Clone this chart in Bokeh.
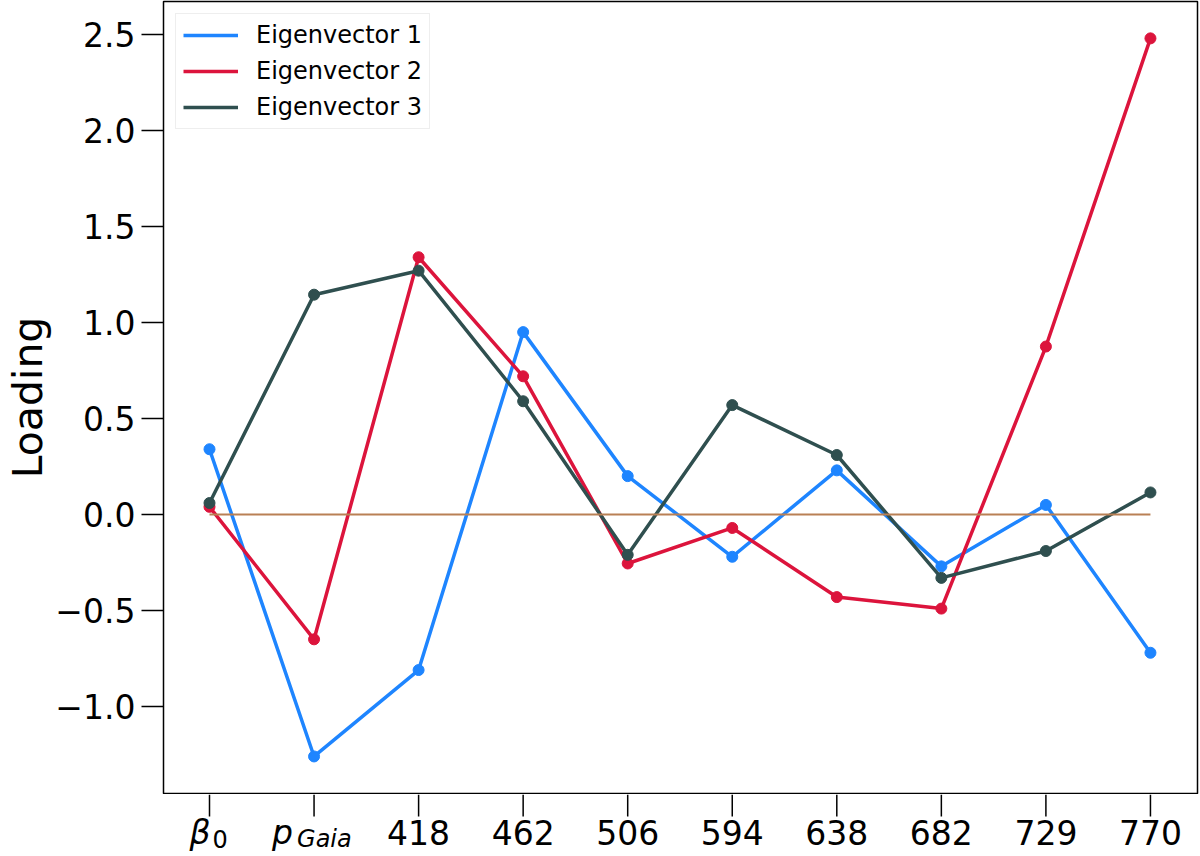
from bokeh.plotting import figure
from bokeh.models import Range1d, FixedTicker, Legend, LegendItem
from bokeh.layouts import column
from bokeh.core.properties import value
from bokeh.embed import file_html
from bokeh.resources import INLINE

# data
tick_names = ["418", "462", "506", "594", "638", "682", "729", "770"]
xs = list(range(10))   # beta0, pGaia, then the wavelengths above

ev1 = [0.34, -1.26, -0.81, 0.95, 0.20, -0.22, 0.23, -0.27, 0.05, -0.72]
ev2 = [0.04, -0.65, 1.34, 0.72, -0.255, -0.07, -0.43, -0.49, 0.875, 2.48]
ev3 = [0.06, 1.145, 1.27, 0.59, -0.21, 0.57, 0.31, -0.33, -0.19, 0.115]
zero = [0.0] * len(xs)

y_ticks = [-1.0, -0.5, 0.0, 0.5, 1.0, 1.5, 2.0, 2.5]
y_tick_labels = ["\u22121.0", "\u22120.5", "0.0", "0.5", "1.0", "1.5", "2.0", "2.5"]

series = [("Eigenvector 1", ev1, "#1E85FF"),
          ("Eigenvector 2", ev2, "#DC143C"),
          ("Eigenvector 3", ev3, "#2F4F4F")]

FONT = "DejaVu Sans"
LEFT = 163
X_RANGE = Range1d(-0.44, 9.45)

# main plot, no x axis (ticks + labels live in the strip below)
p = figure(width=1200, height=794, output_backend="svg", toolbar_location=None,
           x_range=X_RANGE, y_range=Range1d(-1.453, 2.672),
           x_axis_location=None,
           min_border_left=LEFT, min_border_right=3, min_border_top=1,
           min_border_bottom=1)

p.xgrid.visible = False
p.ygrid.visible = False
p.outline_line_color = "black"
p.outline_line_width = 1.5

items = []
for name, vals, col in series:
    r = p.line(xs, vals, color=col, line_width=3.5)
    p.scatter(xs, vals, color=col, size=11)
    items.append(LegendItem(label=name, renderers=[r]))

p.line(xs, zero, color="#B98055", line_width=2)

legend = Legend(items=items, location="top_left", margin=12,
                label_text_font=FONT, label_text_font_size="24px",
                label_text_color="black",
                glyph_width=55, glyph_height=26, label_height=26,
                spacing=8, padding=7, label_standoff=18,
                border_line_color="#dddddd", border_line_width=1.5)
p.add_layout(legend)

# y axis
p.yaxis.ticker = FixedTicker(ticks=y_ticks)
p.yaxis.major_label_overrides = dict(zip(y_ticks, y_tick_labels))
p.yaxis.axis_label = "Loading"
p.yaxis.axis_label_text_font = FONT
p.yaxis.axis_label_text_font_size = "41px"
p.yaxis.axis_label_text_font_style = "normal"
p.yaxis.axis_label_text_color = "black"
p.yaxis.axis_label_standoff = 0
p.yaxis.major_label_text_font = FONT
p.yaxis.major_label_text_font_size = "33px"
p.yaxis.major_label_text_color = "black"
p.yaxis.major_label_standoff = 6
p.yaxis.major_tick_out = 22
p.yaxis.major_tick_in = 0
p.yaxis.major_tick_line_width = 1.5
p.yaxis.minor_tick_line_color = None
p.yaxis.axis_line_color = None

# strip under the plot: x ticks and tick labels (mathtext style for the first two)
strip = figure(width=1200, height=62, output_backend="svg", toolbar_location=None,
               x_range=X_RANGE, y_range=Range1d(-62, 0),
               x_axis_location=None, y_axis_location=None,
               min_border_left=LEFT, min_border_right=3, min_border_top=0,
               min_border_bottom=0)
strip.grid.visible = False
strip.outline_line_color = None

strip.segment(x0=xs, y0=[0] * len(xs), x1=xs, y1=[-22] * len(xs),
              line_color="black", line_width=1.5)

strip.text(x=xs[2:], y=[-38] * len(tick_names), text=tick_names,
           text_font=value(FONT), text_font_size="33px", text_color="black",
           text_align="center", text_baseline="alphabetic")

math_parts = [
    (0, "\u03b2", "33px", "italic", -20, -38),
    (0, "0", "24px", "normal", 3, -44),
    (1, "p", "33px", "italic", -42, -38),
    (1, "Gaia", "24px", "italic", -17, -44),
]
for xi, txt, fs, style, dx, yy in math_parts:
    strip.text(x=[xi], y=[yy], text=[txt], x_offset=dx,
               text_font=value(FONT), text_font_size=fs, text_font_style=style,
               text_color="black", text_align="left", text_baseline="alphabetic")

layout = column(p, strip, spacing=0)
open("out.html", "w").write(file_html(layout, INLINE))
